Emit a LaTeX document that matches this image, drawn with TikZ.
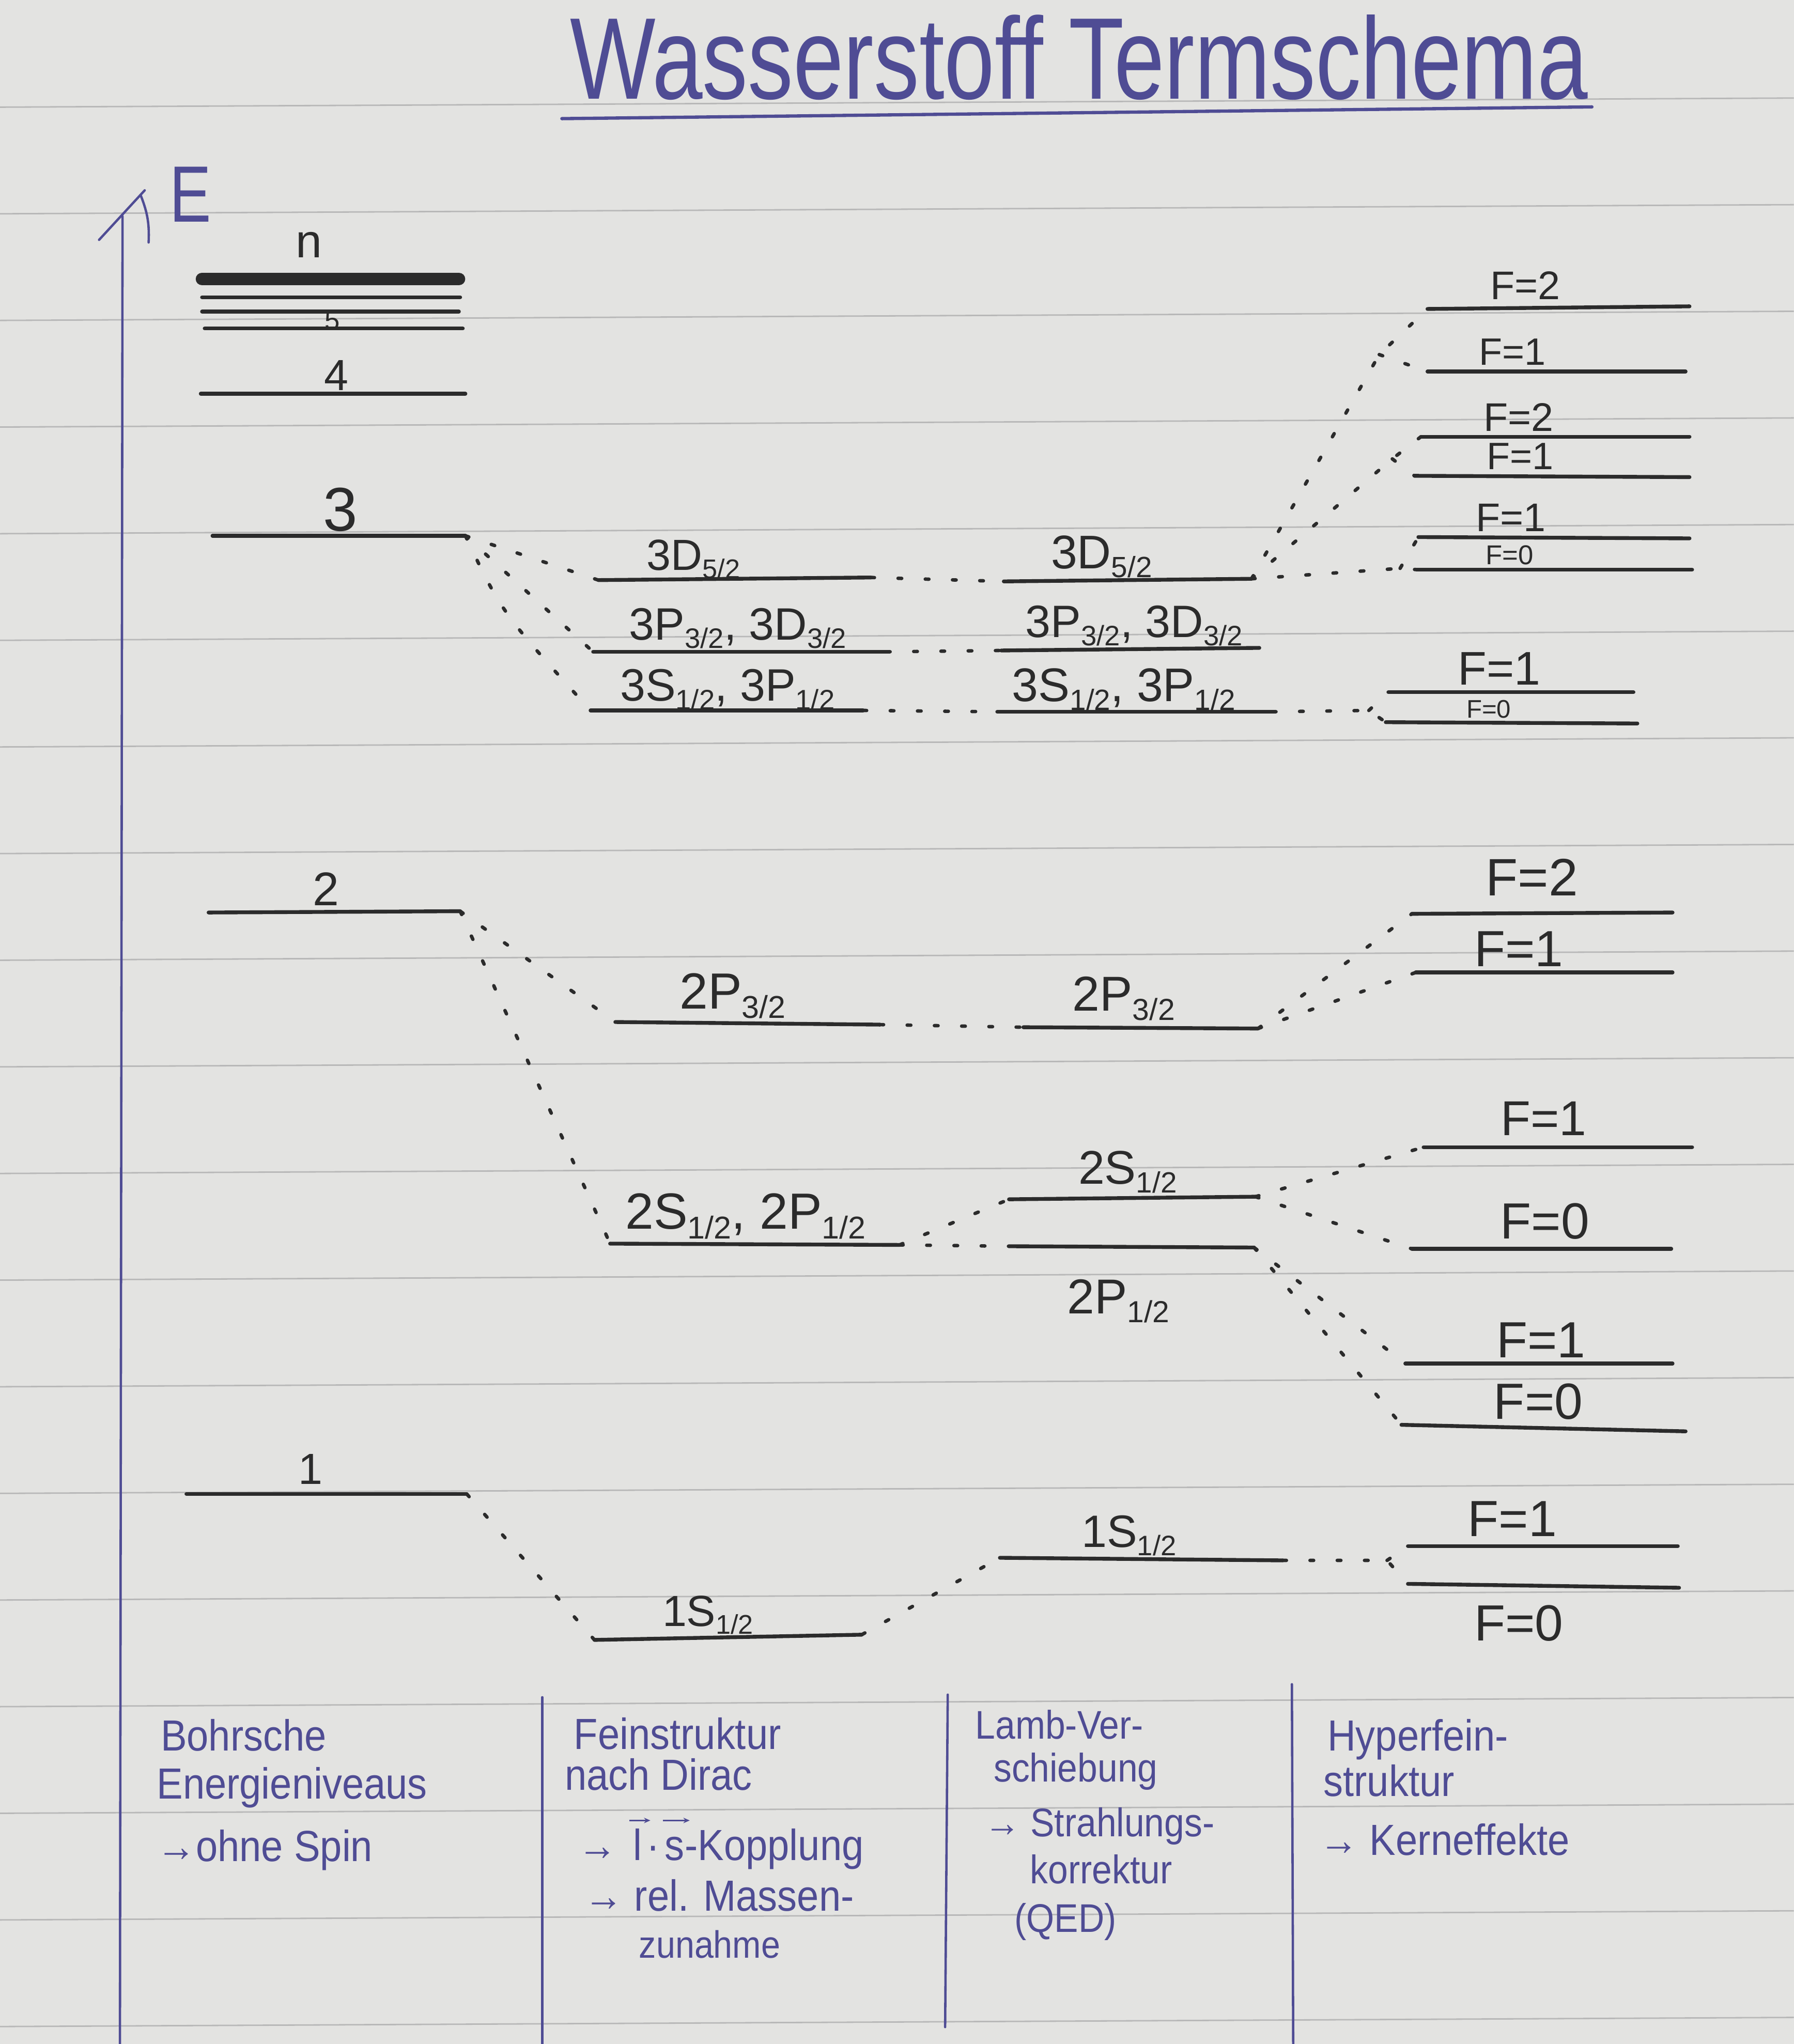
\documentclass[tikz,border=0pt]{standalone}
\usepackage{fontspec}
\setmainfont{Liberation Sans}
\newfontfamily\titlefont[FakeStretch=0.78]{Liberation Sans}
\newfontfamily\handfont[FakeStretch=0.9]{Liberation Sans}
\usetikzlibrary{calc,arrows.meta}

\definecolor{paper}{HTML}{E3E3E1}
\definecolor{ruling}{HTML}{B8B8B8}
\definecolor{ink}{HTML}{2B2B2B}
\definecolor{blueink}{HTML}{4F4C94}

% small lowered index such as 5/2
\newcommand\tsub[1]{\raisebox{-0.35ex}{\scalebox{0.62}{#1}}}
\newcommand\fsz[1]{\fontsize{#1}{#1}\selectfont}

\tikzset{
  lvl/.style={draw=ink, line width=2.1pt, line cap=round},
  conn/.style={draw=ink, line width=1.9pt, line cap=round, dash pattern=on 2pt off 13pt},
  lbl/.style={text=ink, inner sep=0pt},
  hand/.style={text=blueink, inner sep=0pt, anchor=base west},
  rule/.style={draw=ruling, line width=0.8pt},
  pen/.style={draw=blueink, line width=1.3pt, line cap=round},
  vecarrow/.style={draw=blueink, line width=0.9pt, -{Stealth[length=3.5pt, width=3pt]}},
}

% energy level: name, left end, right end, label position, label size, label text
\newcommand\termlevel[6]{%
  \coordinate (#1-l) at (#2);
  \coordinate (#1-r) at (#3);
  \draw[lvl] (#1-l) -- (#1-r);
  \node[lbl, font=\fsz{#5}] (#1-t) at (#4) {#6};
}

\begin{document}
\begin{tikzpicture}[x=0.2523mm, y=-0.2523mm]
\useasboundingbox (0,0) rectangle (1376,1568);
\fill[paper] (0,0) rectangle (1376,1568);

% ruled notebook paper
\foreach \k in {-1,...,17}
  \draw[rule] (0,{164+81.8*\k}) -- (1376,{157+81.8*\k});

% title
\node[hand, font=\titlefont\fsz{64}] (title) at (437,76) {Wasserstoff Termschema};
\draw[pen, line width=1.8pt] ($(title.base west)+(-6,15)$) -- ($(title.base east)+(3,6)$);

% energy axis
\coordinate (axbot) at (92,1568);
\coordinate (axtop) at (94,166);
\draw[pen] (axbot) -- (axtop);
\draw[pen] (76,184) -- (111,146);
\draw[pen] (108,150) to[bend left=12] (114,186);
\node[text=blueink, inner sep=0pt, font=\titlefont\fsz{44}] (elabel) at (146,149) {E};

% ---------- Bohr levels ----------
\coordinate (bn-l) at (155,214);
\coordinate (bn-r) at (352,214);
\draw[lvl, line width=7pt] (bn-l) -- (bn-r);
\node[lbl, font=\fsz{26}] (bn-t) at (237,188) {n};
\draw[lvl] (155,228) -- (353,228);
\draw[lvl] (155,239) -- (352,239);
\termlevel{b5}{157,252}{355,252}{255,246}{15}{5}
\termlevel{b4}{154,302}{357,302}{258,288}{24}{4}
\termlevel{b3}{163,411}{357,411}{261,391}{34}{3}
\termlevel{b2}{160,700}{353,699}{250,682}{26}{2}
\termlevel{b1}{143,1146}{358,1146}{238,1127}{24}{1}

% ---------- fine structure ----------
\termlevel{f3a}{459,445}{668,443}{532,429}{24}{3D\tsub{5/2}}
\termlevel{f3b}{455,500}{680,500}{566,482}{25}{3P\tsub{3/2}, 3D\tsub{3/2}}
\termlevel{f3c}{453,545}{662,545}{558,529}{25}{3S\tsub{1/2}, 3P\tsub{1/2}}
\termlevel{f2a}{472,784}{675,786}{562,764}{28}{2P\tsub{3/2}}
\termlevel{f2b}{468,954}{690,955}{572,933}{28}{2S\tsub{1/2}, 2P\tsub{1/2}}
\termlevel{f1}{456,1258}{661,1254}{543,1239}{24}{1S\tsub{1/2}}

% ---------- Lamb shift ----------
\termlevel{l3a}{770,446}{960,444}{845,427}{26}{3D\tsub{5/2}}
\termlevel{l3b}{768,499}{966,497}{870,480}{25}{3P\tsub{3/2}, 3D\tsub{3/2}}
\termlevel{l3c}{765,546}{976,546}{862,529}{26}{3S\tsub{1/2}, 3P\tsub{1/2}}
\termlevel{l2a}{785,788}{965,789}{862,766}{27}{2P\tsub{3/2}}
\termlevel{l2b}{774,920}{963,918}{865,899}{26}{2S\tsub{1/2}}
\termlevel{l2c}{774,956}{962,957}{858,998}{27}{2P\tsub{1/2}}
\termlevel{l1}{767,1195}{984,1197}{866,1178}{25}{1S\tsub{1/2}}

% ---------- hyperfine structure ----------
\termlevel{h3a}{1095,237}{1296,235}{1170,219}{22}{F=2}
\termlevel{h3b}{1095,285}{1293,285}{1160,270}{21}{F=1}
\termlevel{h3c}{1090,335}{1296,335}{1165,320}{22}{F=2}
\termlevel{h3d}{1085,365}{1296,366}{1166,350}{21}{F=1}
\termlevel{h3e}{1088,412}{1296,413}{1159,397}{22}{F=1}
\termlevel{h3f}{1087,437}{1298,437}{1158,426}{15}{F=0}
\termlevel{h3g}{1065,531}{1253,531}{1150,513}{26}{F=1}
\termlevel{h3h}{1063,554}{1256,555}{1142,544}{14}{F=0}
\termlevel{h2a}{1083,701}{1283,700}{1175,673}{29}{F=2}
\termlevel{h2b}{1086,746}{1283,746}{1165,728}{28}{F=1}
\termlevel{h2c}{1092,880}{1298,880}{1184,858}{27}{F=1}
\termlevel{h2d}{1083,958}{1282,958}{1185,937}{28}{F=0}
\termlevel{h2e}{1078,1046}{1283,1046}{1182,1028}{28}{F=1}
\termlevel{h2f}{1075,1093}{1293,1098}{1180,1075}{28}{F=0}
\termlevel{h1a}{1080,1186}{1287,1186}{1160,1165}{28}{F=1}
\termlevel{h1b}{1080,1215}{1288,1218}{1165,1245}{28}{F=0}

% ---------- dotted correlation lines ----------
% n = 3
\draw[conn] (b3-r) -- (f3a-l);
\draw[conn] (b3-r) -- (f3b-l);
\draw[conn] (b3-r) .. controls (385,470) .. (f3c-l);
\draw[conn] (f3a-r) -- (l3a-l);
\draw[conn] (f3b-r) -- (l3b-l);
\draw[conn] (f3c-r) -- (l3c-l);
\coordinate (k3a) at (1058,272);
\coordinate (k3b) at (1068,352);
\coordinate (k3c) at (1074,436);
\coordinate (k3d) at (1050,545);
\draw[conn] (l3a-r) -- (k3a) -- (h3a-l);
\draw[conn] (k3a) -- (h3b-l);
\draw[conn] (l3a-r) -- (k3b) -- (h3c-l);
\draw[conn] (k3b) -- (h3d-l);
\draw[conn] (l3a-r) -- (k3c) -- (h3f-l);
\draw[conn] (k3c) -- (h3e-l);
\draw[conn] (l3c-r) -- (k3d) -- (h3h-l);
\draw[conn] (k3d) -- (h3g-l);
% n = 2
\draw[conn] (b2-r) -- (f2a-l);
\draw[conn] (b2-r) -- (f2b-l);
\draw[conn] (f2a-r) -- (l2a-l);
\draw[conn] (f2b-r) -- (l2b-l);
\draw[conn] (f2b-r) -- (l2c-l);
\draw[conn] (l2a-r) -- (h2a-l);
\draw[conn] (l2a-r) -- (h2b-l);
\draw[conn] (l2b-r) -- (h2c-l);
\draw[conn] (l2b-r) -- (h2d-l);
\draw[conn] (l2c-r) -- (h2e-l);
\draw[conn] (l2c-r) -- (h2f-l);
% n = 1
\draw[conn] (b1-r) -- (f1-l);
\draw[conn] (f1-r) -- (l1-l);
\coordinate (k1) at (1064,1197);
\draw[conn] (l1-r) -- (k1) -- (h1b-l);
\draw[conn] (k1) -- (h1a-l);

% ---------- legend table ----------
\draw[pen] (416,1302) -- (416,1568);
\draw[pen] (727,1300) -- (725,1555);
\draw[pen] (991,1292) -- (992,1568);

\node[hand, font=\handfont\fsz{24}] (c1a) at (123,1343) {Bohrsche};
\node[hand, font=\handfont\fsz{24}] (c1b) at (120,1380) {Energieniveaus};
\node[hand, font=\handfont\fsz{24}] (c1c) at (120,1428) {→ohne Spin};

\node[hand, font=\handfont\fsz{24}] (c2a) at (440,1342) {Feinstruktur};
\node[hand, font=\handfont\fsz{24}] (c2b) at (433,1373) {nach Dirac};
% "-> l.s-Kopplung" with vector arrows over l and s
\node[hand, font=\handfont\fsz{24}] (c2c) at (443,1427) {→};
\node[hand, font=\handfont\fsz{24}] (c2l) at ($(c2c.base east)+(12,0)$) {l};
\node[hand, font=\handfont\fsz{24}] (c2dot) at ($(c2l.base east)+(3,0)$) {·};
\node[hand, font=\handfont\fsz{24}] (c2s) at ($(c2dot.base east)+(3,0)$) {s};
\node[hand, font=\handfont\fsz{24}] (c2k) at (c2s.base east) {-Kopplung};
\draw[vecarrow] ($(c2l.west |- c2l.north)+(-3,-6)$) -- ($(c2l.east |- c2l.north)+(6,-6)$);
\draw[vecarrow] ($(c2s.west |- c2l.north)+(-1,-6)$) -- ($(c2s.east |- c2l.north)+(4,-6)$);
\node[hand, font=\handfont\fsz{24}] (c2d) at (448,1466) {→ rel. Massen-};
\node[hand, font=\handfont\fsz{21}] (c2e) at (490,1502) {zunahme};

\node[hand, font=\handfont\fsz{22}] (c3a) at (748,1334) {Lamb-Ver-};
\node[hand, font=\handfont\fsz{22}] (c3b) at (762,1367) {schiebung};
\node[hand, font=\handfont\fsz{22}] (c3c) at (755,1409) {→ Strahlungs-};
\node[hand, font=\handfont\fsz{22}] (c3d) at (790,1445) {korrektur};
\node[hand, font=\handfont\fsz{22}] (c3e) at (778,1482) {(QED)};

\node[hand, font=\handfont\fsz{24}] (c4a) at (1018,1343) {Hyperfein-};
\node[hand, font=\handfont\fsz{24}] (c4b) at (1015,1378) {struktur};
\node[hand, font=\handfont\fsz{24}] (c4c) at (1012,1423) {→ Kerneffekte};
\end{tikzpicture}
\end{document}
